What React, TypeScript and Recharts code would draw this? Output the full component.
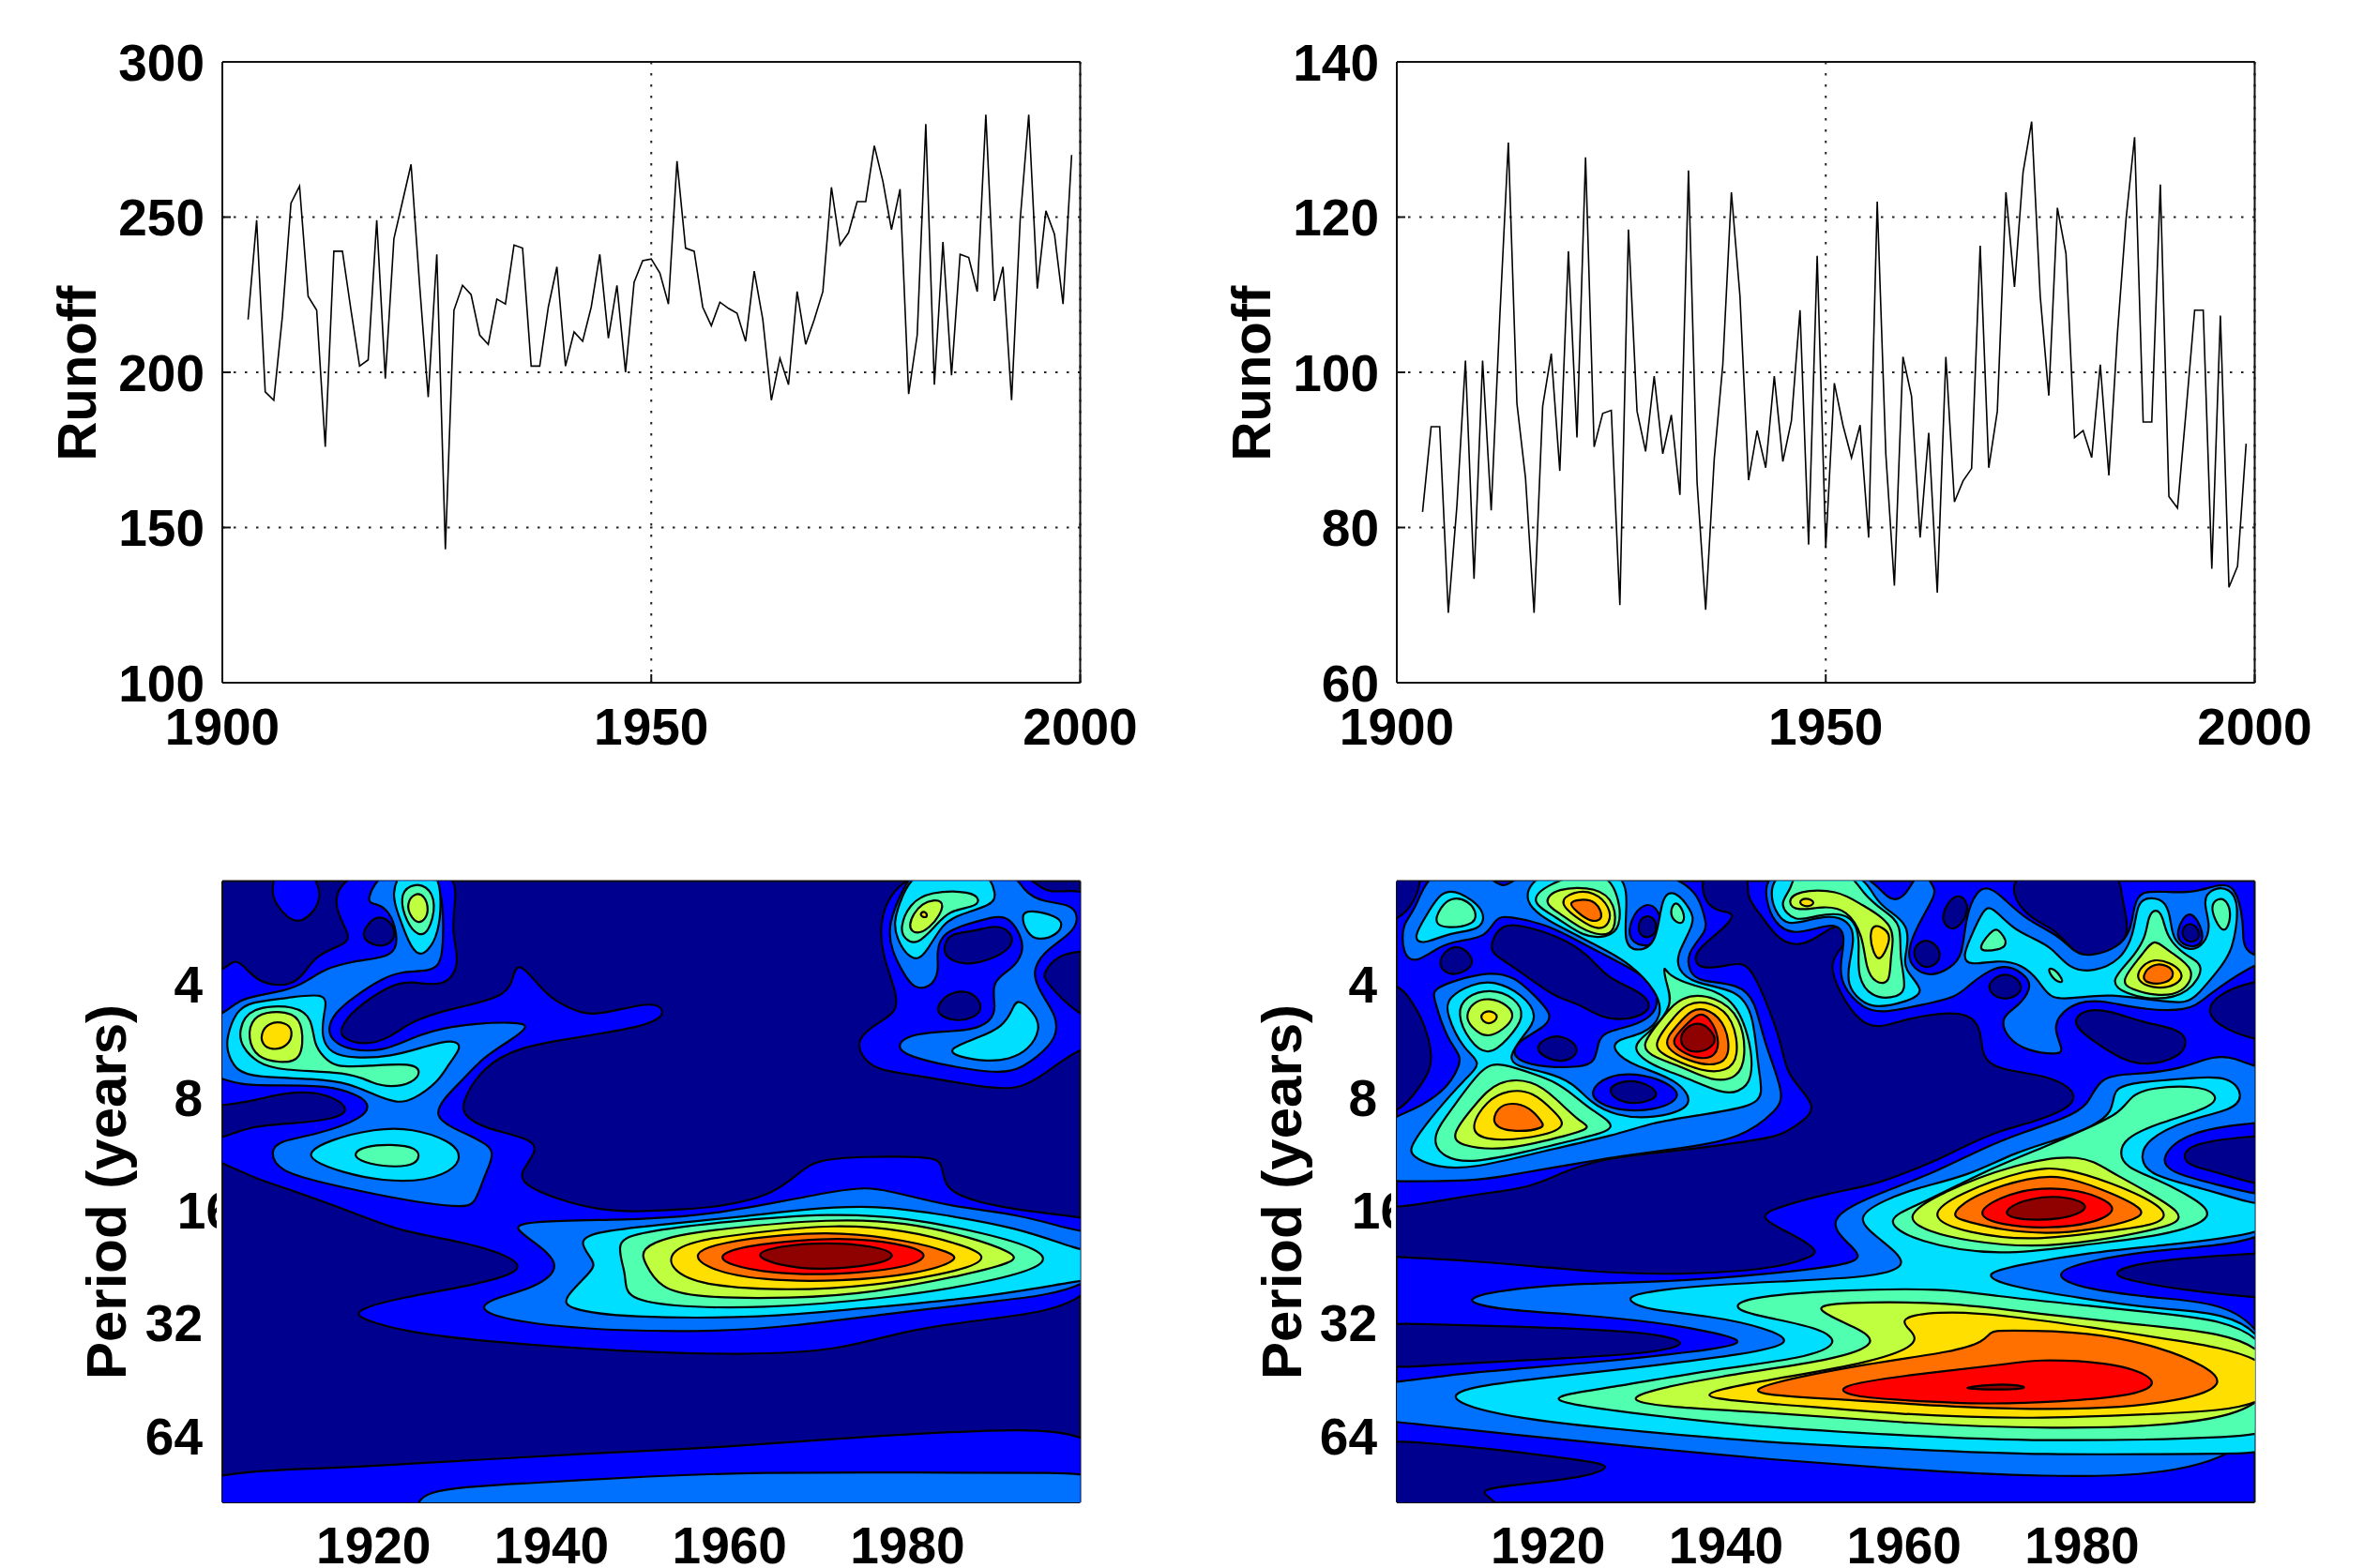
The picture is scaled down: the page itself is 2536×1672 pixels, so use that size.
import { CartesianGrid, ComposedChart, Label, Line, Scatter, XAxis, YAxis } from "recharts"

const years = [
  1903, 1904, 1905, 1906, 1907, 1908, 1909, 1910, 1911, 1912, 1913, 1914, 1915, 1916, 1917, 1918, 1919, 1920, 1921,
  1922, 1923, 1924, 1925, 1926, 1927, 1928, 1929, 1930, 1931, 1932, 1933, 1934, 1935, 1936, 1937, 1938, 1939, 1940,
  1941, 1942, 1943, 1944, 1945, 1946, 1947, 1948, 1949, 1950, 1951, 1952, 1953, 1954, 1955, 1956, 1957, 1958, 1959,
  1960, 1961, 1962, 1963, 1964, 1965, 1966, 1967, 1968, 1969, 1970, 1971, 1972, 1973, 1974, 1975, 1976, 1977, 1978,
  1979, 1980, 1981, 1982, 1983, 1984, 1985, 1986, 1987, 1988, 1989, 1990, 1991, 1992, 1993, 1994, 1995, 1996, 1997,
  1998, 1999,
]
const leftRunoff = [
  217, 249, 193.7, 191, 218, 254.5, 260, 224.5, 220, 176, 239, 239, 220, 202, 204, 249, 198, 243, 255, 267, 228, 192,
  238, 143, 220, 228, 225, 212, 209, 223.6, 222, 241, 240, 202, 202, 221, 234, 202, 213, 210, 221, 238, 211, 228, 200,
  229, 236, 236.5, 232, 222, 268, 240, 239, 221, 215, 222.6, 220.6, 219, 210, 232.6, 217, 191, 204.5, 196, 226, 209,
  217, 226, 259.6, 241, 245, 255, 255, 273, 261.5, 246, 259, 193, 212, 280, 196, 242, 199, 238, 237, 226, 283, 223,
  234, 191, 249, 283, 227, 252, 244.5, 222, 270,
]
const rightRunoff = [
  82, 93, 93, 69, 82.7, 101.5, 73.4, 101.5, 82.2, 107, 129.6, 96, 86.4, 69, 95.6, 102.4, 87.3, 115.6, 91.6, 127.7,
  90.4, 94.7, 95.1, 70, 118.4, 95, 89.8, 99.5, 89.5, 94.5, 84.2, 126, 85.8, 69.4, 88.8, 101, 123.2, 109.8, 86.1, 92.5,
  87.7, 99.5, 88.5, 93.8, 108, 77.8, 115, 77.4, 98.6, 93.2, 89, 93.2, 78.7, 122, 89.5, 72.5, 102, 96.9, 78.7, 92.2,
  71.6, 102, 83.3, 86, 87.6, 116.3, 87.7, 95, 123.2, 111, 125.8, 132.3, 109.8, 97, 121.2, 115.3, 91.6, 92.5, 89, 101,
  86.7, 105, 119.7, 130.3, 93.6, 93.6, 124.2, 84, 82.5, 95, 108, 108, 74.7, 107.3, 72.3, 75, 90.8,
]
const leftRunoffTicks = [100, 150, 200, 250, 300]
const rightRunoffTicks = [60, 80, 100, 120, 140]
const lineYearTicks = [1900, 1950, 2000]
const contourYearTicks = [1920, 1940, 1960, 1980]
const periodOctaves = [2, 3, 4, 5, 6]

// jet bands, index = contour level
const levelColors = [
  "#00008f", "#0000ff", "#0070ff", "#00dfff", "#50ffaf", "#bfff40", "#ffdf00", "#ff7000", "#ff0000", "#8f0000",
]

// [level, [year, log2(period)] ...], painted in order
type Contour = [number, number[][]]

const leftContours: Contour[] = [
  [1, [[1908.5, 1.18], [1909, 0.95], [1912.9, 0.95], [1914.6, 1.24], [1911.9, 1.47], [1910.2, 1.4], [1909, 1.28]]],
  [1, [
    [1915, 1.28], [1917.3, 0.95], [1929.1, 0.95], [1929.3, 1.22], [1928.7, 1.53], [1929.8, 1.81], [1928.1, 2.03],
    [1924, 1.96], [1921.9, 2], [1917.7, 2.22], [1916.2, 2.39], [1916.4, 2.47], [1918.9, 2.54], [1921.9, 2.47],
    [1924, 2.33], [1928.5, 2.21], [1935.2, 2.11], [1935.7, 1.89], [1936.4, 1.8], [1938.5, 2], [1940.2, 2.14],
    [1943.5, 2.26], [1945.5, 2.26], [1950.1, 2.17], [1952.2, 2.17], [1952.8, 2.28], [1950.1, 2.37], [1945.5, 2.43],
    [1941.9, 2.48], [1936.4, 2.55], [1932.3, 2.72], [1929.8, 3.05], [1930.2, 3.16], [1932.3, 3.27], [1937.7, 3.36],
    [1938.5, 3.47], [1936.4, 3.66], [1936.8, 3.77], [1940.6, 3.9], [1945.5, 4.0], [1950.1, 4.01], [1954.4, 3.99],
    [1958.7, 3.97], [1964.7, 3.87], [1967.9, 3.66], [1969.7, 3.55], [1974.7, 3.52], [1982.9, 3.52], [1983.9, 3.58],
    [1984.1, 3.77], [1985.7, 3.87], [1990, 3.97], [1999.3, 4.06], [2002, 4.08], [2002, 4.84], [1988.8, 4.96],
    [1979.1, 5.07], [1972.4, 5.24], [1962, 5.28], [1947.8, 5.25], [1932.8, 5.16], [1924.6, 5.09], [1918.3, 4.96],
    [1917.9, 4.88], [1923.1, 4.77], [1930.6, 4.67], [1936.2, 4.56], [1936.6, 4.44], [1930.6, 4.28], [1923.1, 4.19],
    [1917.9, 4.02], [1909, 3.77], [1906.9, 3.72], [1903.1, 3.58], [1901, 3.52], [1901, 3.36], [1903.1, 3.36],
    [1906, 3.25], [1911, 3.23], [1916.4, 3.18], [1917.3, 3.08], [1914.4, 2.95], [1910.2, 2.95], [1906.9, 3.02],
    [1903.1, 3.07], [1901, 3.07], [1901, 1.88], [1903.1, 1.88], [1904.4, 1.76], [1905.6, 1.85], [1906.9, 1.96],
    [1909, 2.01], [1911, 1.99], [1912.3, 1.89], [1913.5, 1.74], [1916.4, 1.65], [1917.7, 1.58],
  ]],
  [1, [
    [1979.3, 0.95], [1992.5, 0.95], [1995.3, 1.18], [1997.1, 1.17], [2002, 1.16], [2002, 1.7], [1999.3, 1.7],
    [1996.8, 1.74], [1995.3, 1.89], [1995.3, 1.96], [1999.3, 2.28], [2002, 2.33], [2002, 2.55], [1999.3, 2.55],
    [1995.3, 2.8], [1992.8, 2.91], [1990, 2.93], [1981.1, 2.8], [1976.8, 2.76], [1975, 2.66], [1974.1, 2.48],
    [1976.8, 2.33], [1978.8, 2.24], [1978.8, 2.08], [1977.5, 1.81], [1976.5, 1.46],
  ]],
  [1, [
    [1895, 6.33], [1914.2, 6.29], [1929.1, 6.22], [1944, 6.15], [1959, 6.1], [1973.9, 6.01], [1988.8, 5.94],
    [2005, 5.93], [2005, 7.2], [1895, 7.2],
  ]],
  [0, [[1918.5, 1.58], [1919.4, 1.45], [1920.6, 1.38], [1922.1, 1.45], [1922.5, 1.57], [1921.6, 1.65], [1920.2, 1.66]]],
  [0, [[1984, 1.67], [1984.7, 1.54], [1987.5, 1.53], [1990, 1.46], [1991.8, 1.54], [1991.8, 1.67], [1989.3, 1.78], [1986.4, 1.83], [1984.3, 1.76]]],
  [0, [[1982.9, 2.25], [1984, 2.1], [1986.1, 2.04], [1987.9, 2.1], [1988.4, 2.22], [1987.5, 2.29], [1985.4, 2.33]]],
  [2, [
    [1919, 1.27], [1921, 0.95], [1927.5, 0.95], [1927.9, 1.47], [1927.7, 1.81], [1926.4, 1.88], [1923.1, 1.88],
    [1921, 1.94], [1917.7, 2.11], [1915.6, 2.25], [1914.8, 2.39], [1915.4, 2.5], [1917.3, 2.58], [1921, 2.59],
    [1924, 2.48], [1928.1, 2.36], [1936.4, 2.32], [1937.5, 2.37], [1935.6, 2.48], [1932.3, 2.64], [1929.8, 2.86],
    [1927.7, 3.02], [1926.9, 3.16], [1928.5, 3.26], [1933.1, 3.41], [1933.5, 3.52], [1932.3, 3.72], [1931.4, 3.94],
    [1930.2, 3.97], [1926, 3.94], [1919.8, 3.85], [1913.5, 3.74], [1909.4, 3.65], [1908.3, 3.48], [1909.4, 3.38],
    [1913.5, 3.33], [1919, 3.18], [1919.6, 3.05], [1918.1, 2.97], [1914.8, 2.89], [1909.4, 2.89], [1905.2, 2.89],
    [1903.1, 2.83], [1901, 2.8], [1901, 2.25], [1903.1, 2.28], [1904.8, 2.11], [1910.2, 2.06], [1912.7, 1.96],
    [1914.4, 1.86], [1917.7, 1.79], [1921, 1.76], [1922.7, 1.7], [1922.5, 1.47], [1921.4, 1.32], [1920.2, 1.28],
  ]],
  [2, [
    [1977.7, 1.47], [1979.7, 1.11], [1981.1, 0.95], [1991.8, 0.95], [1992.9, 1.17], [1995.3, 1.27], [1998.2, 1.28],
    [1999.3, 1.39], [1998.6, 1.54], [1995.3, 1.7], [1993.9, 1.89], [1995, 2.08], [1996.8, 2.28], [1996.8, 2.47],
    [1994.6, 2.64], [1991.8, 2.79], [1987.5, 2.76], [1981.1, 2.66], [1978.6, 2.57], [1979.7, 2.44], [1984.7, 2.41],
    [1987.2, 2.4], [1989.3, 2.33], [1990, 2.21], [1989.3, 1.97], [1991.8, 1.86], [1993, 1.72], [1992.9, 1.58],
    [1991.4, 1.4], [1990, 1.39], [1987.2, 1.45], [1984, 1.53], [1983.2, 1.7], [1983.6, 1.89], [1982.5, 2.03],
    [1980.7, 2.03], [1979.7, 1.92], [1978.2, 1.7],
  ]],
  [2, [
    [1935.8, 4.16], [1936.6, 4.09], [1951.5, 4.08], [1959, 4.02], [1966.4, 3.91], [1971.6, 3.83], [1975.4, 3.79],
    [1978.3, 3.83], [1985, 3.97], [1992.5, 4.03], [1999.2, 4.19], [2002, 4.2], [2002, 4.7], [1988.8, 4.81],
    [1978.3, 4.91], [1966.4, 5.03], [1959, 5.07], [1947.8, 5.07], [1936.6, 5], [1931.3, 4.88], [1933.6, 4.77],
    [1938.1, 4.69], [1941.4, 4.49], [1938.1, 4.28],
  ]],
  [2, [
    [1924.6, 6.47], [1936.6, 6.42], [1951.5, 6.35], [1962.7, 6.32], [1981.3, 6.32], [1997, 6.32], [2005, 6.35],
    [2005, 7.2], [1925, 7.2], [1925, 6.7],
  ]],
  [3, [
    [1903.5, 2.47], [1904.4, 2.25], [1906, 2.15], [1910.2, 2.12], [1915, 2.06], [1914.4, 2.25], [1914.1, 2.47],
    [1915.2, 2.61], [1917.7, 2.65], [1921.9, 2.64], [1926, 2.54], [1929, 2.48], [1930, 2.55], [1928.5, 2.69],
    [1927.3, 2.86], [1924.4, 3.02], [1922.7, 3.05], [1920.2, 2.98], [1917.3, 2.87], [1913.5, 2.83], [1906.4, 2.82],
    [1904.4, 2.75], [1903.5, 2.58],
  ]],
  [3, [[1922, 1.2], [1923.1, 0.95], [1926.9, 0.95], [1927.7, 1.2], [1927.3, 1.56], [1926, 1.71], [1925, 1.74], [1924, 1.64], [1922.7, 1.36]]],
  [3, [[1912.7, 3.48], [1914.8, 3.38], [1920.2, 3.27], [1924.4, 3.27], [1928.5, 3.38], [1929.8, 3.49], [1929.4, 3.62], [1926, 3.74], [1921, 3.74], [1916.4, 3.66], [1913.1, 3.56]]],
  [3, [[1978.4, 1.45], [1979.3, 1.22], [1981.1, 0.95], [1988.9, 0.95], [1990, 1.2], [1989.6, 1.29], [1985.7, 1.38], [1984, 1.45], [1982.2, 1.7], [1981.1, 1.79], [1979.7, 1.72], [1978.8, 1.58]]],
  [3, [[1992.7, 1.38], [1993.6, 1.33], [1996.8, 1.39], [1997.5, 1.46], [1996.8, 1.56], [1994.6, 1.61], [1993.4, 1.54]]],
  [3, [[1984.3, 2.57], [1988.2, 2.46], [1990.7, 2.37], [1991.8, 2.22], [1992.3, 2.11], [1994.3, 2.25], [1995, 2.39], [1993.6, 2.58], [1991.4, 2.66], [1989, 2.68], [1985.7, 2.64]]],
  [3, [
    [1942.9, 4.27], [1944.8, 4.19], [1951.5, 4.13], [1962, 4.05], [1967.9, 3.99], [1976.1, 3.95], [1982.8, 4.02],
    [1992.5, 4.15], [1999.2, 4.35], [2002, 4.38], [2002, 4.6], [1999.2, 4.62], [1988.8, 4.77], [1973.9, 4.87],
    [1964.5, 4.95], [1947.8, 4.95], [1941.8, 4.87], [1941.2, 4.78], [1944.8, 4.52], [1944.8, 4.45],
  ]],
  [4, [
    [1904.8, 2.41], [1906, 2.19], [1911.4, 2.18], [1913.1, 2.3], [1913.3, 2.53], [1914.4, 2.64], [1915.6, 2.73],
    [1919.4, 2.72], [1924.4, 2.69], [1925.4, 2.77], [1924.4, 2.87], [1921.9, 2.91], [1919.8, 2.87], [1917.3, 2.77],
    [1909.4, 2.76], [1906.9, 2.69], [1905.2, 2.55],
  ]],
  [4, [[1922.9, 1.22], [1924, 1.11], [1926, 1.11], [1927.1, 1.28], [1926.2, 1.54], [1925, 1.57], [1923.7, 1.45]]],
  [4, [[1917.7, 3.49], [1919, 3.43], [1921.9, 3.41], [1925, 3.44], [1925.2, 3.55], [1924, 3.61], [1921, 3.61], [1918.3, 3.56]]],
  [4, [[1979.1, 1.5], [1980.2, 1.28], [1982.5, 1.17], [1987.2, 1.17], [1988.2, 1.25], [1987.5, 1.31], [1984.7, 1.34], [1983.2, 1.47], [1981.1, 1.65], [1979.7, 1.6]]],
  [4, [
    [1947, 4.27], [1950, 4.19], [1959, 4.1], [1971.6, 4.02], [1979.8, 4.06], [1988.8, 4.2], [1994.8, 4.34],
    [1996.1, 4.48], [1988.8, 4.64], [1977.6, 4.78], [1963.4, 4.87], [1953, 4.85], [1948.1, 4.77], [1948.5, 4.57],
  ]],
  [5, [[1905.8, 2.47], [1906.4, 2.28], [1908.5, 2.23], [1911, 2.25], [1912.1, 2.36], [1912, 2.68], [1909.4, 2.69], [1906.9, 2.65]]],
  [5, [[1923.7, 1.28], [1924.6, 1.18], [1925.8, 1.21], [1926.2, 1.34], [1925.8, 1.42], [1925, 1.46], [1924.1, 1.39]]],
  [5, [[1979.8, 1.49], [1981.5, 1.25], [1984.3, 1.24], [1983.6, 1.39], [1982.5, 1.49], [1981.1, 1.56]]],
  [5, [
    [1950, 4.34], [1953, 4.23], [1959, 4.16], [1971.6, 4.07], [1979.8, 4.1], [1987.3, 4.24], [1991.8, 4.37],
    [1992.5, 4.45], [1986.5, 4.57], [1976.1, 4.73], [1967.1, 4.78], [1956, 4.77], [1952.2, 4.69], [1950.4, 4.46],
  ]],
  [6, [[1907.3, 2.44], [1908.1, 2.33], [1910.2, 2.33], [1911, 2.41], [1910.4, 2.55], [1908.5, 2.58], [1907.5, 2.53]]],
  [6, [[1981.3, 1.38], [1981.8, 1.34], [1982.3, 1.38], [1982, 1.41]]],
  [6, [
    [1953, 4.38], [1956, 4.26], [1963.4, 4.19], [1971.6, 4.12], [1979.8, 4.17], [1986.5, 4.31], [1989.2, 4.41],
    [1986.5, 4.53], [1976.1, 4.67], [1966.4, 4.71], [1957.5, 4.67], [1953.7, 4.55],
  ]],
  [7, [[1955.6, 4.38], [1959, 4.28], [1966.4, 4.21], [1972.4, 4.19], [1979.8, 4.26], [1985, 4.37], [1985.8, 4.44], [1981.3, 4.56], [1972.4, 4.63], [1963.4, 4.62], [1957.5, 4.52]]],
  [8, [[1958.6, 4.39], [1961.9, 4.31], [1967.9, 4.26], [1973.9, 4.24], [1980.6, 4.31], [1982.7, 4.41], [1979.1, 4.52], [1971.6, 4.57], [1964.9, 4.56], [1959.7, 4.48]]],
  [9, [[1962.3, 4.39], [1965.7, 4.31], [1970.9, 4.28], [1976.1, 4.31], [1979.1, 4.39], [1976.8, 4.48], [1970.1, 4.53], [1965.7, 4.49]]],
]

// the right panel's lowest painted band is level 1, its dark patches go on top
const rightContours: Contour[] = [
  [0, [
    [1901, 3.97], [1903, 3.97], [1907.5, 3.92], [1912.3, 3.85], [1918, 3.8], [1921.6, 3.66], [1925.6, 3.55],
    [1931.7, 3.49], [1937.7, 3.44], [1943.8, 3.37], [1946.3, 3.33], [1948.4, 3.22], [1950.5, 3.08], [1946.7, 2.8],
    [1946.4, 2.55], [1944.2, 2.08], [1942.5, 1.81], [1940.9, 1.81], [1936.9, 1.88], [1936.1, 1.72], [1939.3, 1.53],
    [1940.9, 1.4], [1940.5, 1.35], [1937.7, 1.34], [1936.7, 0.95], [1942.9, 0.95], [1942.1, 1.22], [1943.8, 1.36],
    [1945.8, 1.61], [1948.6, 1.67], [1951.6, 1.5], [1952.6, 1.47], [1953.8, 1.57], [1953, 1.67], [1951.5, 1.81],
    [1952.8, 2.08], [1955, 2.33], [1957.1, 2.39], [1960.3, 2.3], [1963.8, 2.25], [1967.3, 2.25], [1968.7, 2.39],
    [1968.7, 2.64], [1970.4, 2.75], [1976, 2.8], [1978.8, 2.91], [1979.3, 3.02], [1977.8, 3.12], [1974.3, 3.22],
    [1970.8, 3.29], [1967.3, 3.41], [1963.8, 3.55], [1960.3, 3.66], [1956.8, 3.77], [1951.2, 3.85], [1945.4, 3.98],
    [1943.5, 4.06], [1947.5, 4.21], [1950.4, 4.35], [1949.7, 4.41], [1945.4, 4.52], [1934.5, 4.57], [1925.8, 4.55],
    [1912.7, 4.45], [1903.3, 4.41], [1901, 4.41],
  ]],
  [0, [[1901, 2], [1903, 2], [1904.2, 2.08], [1906.3, 2.36], [1907, 2.64], [1906.7, 2.77], [1905, 2.97], [1903.2, 3.12], [1901, 3.15]]],
  [0, [[1901, 0.9], [1906.3, 0.95], [1905, 1.28], [1903.2, 1.42], [1901, 1.45]]],
  [0, [[1907.5, 1.81], [1908.7, 1.67], [1910.3, 1.65], [1911.9, 1.79], [1910.7, 1.89], [1908.7, 1.92]]],
  [0, [
    [1913.5, 1.64], [1914.7, 1.46], [1917.1, 1.47], [1921.2, 1.57], [1924.4, 1.72], [1926.6, 1.94], [1929.6, 2.03],
    [1931.5, 2.14], [1931.3, 2.25], [1928.4, 2.32], [1925.6, 2.28], [1923.6, 2.17], [1920.8, 2.11], [1917.9, 1.94],
    [1915.5, 1.81], [1913.7, 1.72],
  ]],
  [0, [[1918.3, 2.58], [1919.6, 2.47], [1921.6, 2.44], [1923.6, 2.55], [1922.8, 2.66], [1920.8, 2.69]]],
  [0, [[1970.8, 0.95], [1973.2, 1.39], [1977.1, 1.5], [1978.8, 1.7], [1981.3, 1.79], [1984.1, 1.7], [1985.5, 1.52], [1984.2, 1.17], [1984.4, 0.95]]],
  [0, [[1960.8, 1.72], [1961.7, 1.61], [1963.1, 1.6], [1964.3, 1.72], [1963.6, 1.83], [1962, 1.86]]],
  [0, [[1964.1, 1.38], [1965.5, 1.2], [1966.9, 1.22], [1967.3, 1.36], [1965.9, 1.52], [1964.7, 1.49]]],
  [0, [[1969.2, 2.04], [1970.1, 1.93], [1971.8, 1.89], [1973.4, 1.99], [1972.9, 2.1], [1970.8, 2.14]]],
  [0, [[1978.8, 2.35], [1979.9, 2.22], [1983, 2.22], [1986.5, 2.33], [1991, 2.39], [1991.9, 2.5], [1991.1, 2.64], [1987.2, 2.72], [1984.4, 2.66], [1981.3, 2.5]]],
  [0, [[1993.8, 2.25], [1995.2, 2.08], [1999.1, 1.97], [2002, 1.95], [2002, 2.5], [1999.1, 2.48], [1996, 2.39]]],
  [0, [[1991.2, 3.54], [1992.1, 3.4], [1999.1, 3.34], [2002, 3.33], [2002, 3.78], [1999.1, 3.76], [1995.2, 3.66], [1992.4, 3.61]]],
  [0, [[1982.4, 4.56], [1987.4, 4.44], [1999.4, 4.38], [2002, 4.37], [2002, 4.78], [1999.4, 4.77], [1991.1, 4.7], [1986.7, 4.64]]],
  [0, [[1901, 5], [1903.3, 5], [1918.5, 5.03], [1930.8, 5.07], [1936.6, 5.17], [1931.6, 5.27], [1918.5, 5.32], [1903.3, 5.39], [1901, 5.39]]],
  [0, [[1901, 6.04], [1903.3, 6.04], [1912.7, 6.1], [1923.6, 6.21], [1927.6, 6.26], [1924.3, 6.36], [1917.8, 6.42], [1911.2, 6.47], [1915.2, 6.6], [1915, 6.9], [1901, 6.9]]],
  [2, [
    [1906.7, 0.95], [1912.5, 0.95], [1915.1, 1.2], [1916.9, 0.95], [1935.9, 0.95], [1937.7, 1.42], [1937.9, 1.52],
    [1935.5, 1.72], [1935.9, 1.89], [1936.9, 1.97], [1941.5, 1.99], [1943.3, 2.14], [1944.2, 2.5], [1946.6, 2.97],
    [1945.8, 3.11], [1941.7, 3.36], [1935.7, 3.44], [1927.6, 3.52], [1923.6, 3.58], [1919.6, 3.63], [1915.5, 3.69],
    [1911.5, 3.74], [1903, 3.74], [1901, 3.74], [1901, 3.2], [1904.6, 3.13], [1908.3, 2.94], [1909.5, 2.8],
    [1910.5, 2.64], [1908.7, 2.5], [1907.1, 2.11], [1907.1, 2.04], [1909.5, 1.96], [1913.5, 1.88], [1916.3, 1.93],
    [1918.3, 2.08], [1920.8, 2.28], [1919.2, 2.39], [1917.1, 2.48], [1915.9, 2.58], [1916.7, 2.68], [1919.6, 2.73],
    [1923.6, 2.73], [1925.4, 2.69], [1925.6, 2.47], [1926.8, 2.41], [1929.6, 2.36], [1931.7, 2.28], [1932.5, 2.14],
    [1931.7, 1.97], [1929.2, 1.85], [1926, 1.72], [1922.4, 1.57], [1919.6, 1.46], [1915.5, 1.39], [1914.1, 1.4],
    [1913.1, 1.58], [1909.9, 1.61], [1907.9, 1.65], [1905, 1.82], [1903.6, 1.72], [1903.6, 1.45], [1905, 1.36],
  ]],
  [2, [
    [1944.4, 0.95], [1955.7, 0.95], [1958.2, 1.28], [1960.3, 1.22], [1961.7, 0.95], [1963.4, 1.13], [1963.6, 1.2],
    [1961.3, 1.5], [1960.3, 1.72], [1961, 1.86], [1963.1, 1.93], [1965.2, 1.85], [1966.6, 1.75], [1966.9, 1.39],
    [1968.2, 1.16], [1969.4, 1.13], [1970.8, 1.2], [1973.6, 1.42], [1977.4, 1.56], [1979.2, 1.72], [1980.9, 1.75],
    [1984.1, 1.67], [1985.5, 1.52], [1985.8, 1.31], [1986.5, 1.16], [1989.7, 1.18], [1992.8, 1.18], [1995.2, 1.11],
    [1997.3, 1.11], [1998.2, 1.47], [1998, 1.64], [1999.1, 1.75], [2002, 1.76], [1999.1, 1.82], [1993.8, 2.11],
    [1992.1, 2.24], [1985.8, 2.21], [1982.7, 2.14], [1979.5, 2.14], [1977.2, 2.28], [1976.9, 2.41], [1977.9, 2.58],
    [1977.4, 2.62], [1973.9, 2.59], [1971.5, 2.47], [1970.8, 2.28], [1972.9, 2.19], [1974.3, 2.03], [1973.9, 1.93],
    [1971.8, 1.82], [1969.7, 1.86], [1967.3, 2], [1965.9, 2.11], [1962.4, 2.17], [1957.8, 2.25], [1955.4, 2.22],
    [1952.9, 2], [1952.8, 1.81], [1953.5, 1.54], [1952.2, 1.46], [1950.5, 1.49], [1947.4, 1.56], [1945.4, 1.45],
    [1944.4, 1.25],
  ]],
  [2, [
    [1981.8, 2.8], [1986.5, 2.79], [1991, 2.75], [1994.9, 2.62], [1997.3, 2.65], [1999.1, 2.72], [2002, 2.75],
    [2002, 3.22], [1999.1, 3.22], [1991.8, 3.3], [1988.8, 3.52], [1989.6, 3.66], [1995.2, 3.77], [1999.1, 3.85],
    [2002, 3.87], [2002, 4.28], [1988.9, 4.34], [1980.9, 4.44], [1976.2, 4.56], [1980.2, 4.7], [1988.9, 4.78],
    [2002, 4.86], [2002, 6.36], [1972.9, 6.36], [1959.9, 6.29], [1945.4, 6.21], [1930.8, 6.1], [1916.3, 5.99],
    [1903.3, 5.87], [1901, 5.87], [1901, 5.52], [1903.3, 5.52], [1911.2, 5.43], [1925, 5.35], [1936.6, 5.25],
    [1943.2, 5.17], [1938.1, 5.07], [1932.3, 4.99], [1923.6, 4.92], [1914.2, 4.88], [1909.4, 4.78], [1917.8, 4.67],
    [1926.5, 4.64], [1934.5, 4.63], [1949, 4.53], [1954.8, 4.46], [1955.2, 4.37], [1950.3, 4.08], [1957.8, 3.83],
    [1963.8, 3.65], [1969, 3.44], [1973.6, 3.3], [1977.8, 3.19], [1980.9, 3.07],
  ]],
  [1, [[1929, 1.47], [1930.4, 1.28], [1932.3, 1.29], [1933.1, 1.53], [1932.1, 1.67], [1929.2, 1.64]]],
  [1, [[1924.6, 2.95], [1926.4, 2.8], [1930.8, 2.78], [1934.5, 2.91], [1934.7, 3.02], [1932.1, 3.11], [1928.4, 3.12], [1925.6, 3.05]]],
  [0, [[1930, 1.47], [1930.8, 1.38], [1931.9, 1.4], [1932.3, 1.5], [1931.7, 1.58], [1930.4, 1.58]]],
  [0, [[1926.6, 2.95], [1927.6, 2.86], [1930.4, 2.84], [1932.9, 2.97], [1930.8, 3.05], [1928.4, 3.05]]],
  [3, [
    [1916.5, 1.27], [1919.2, 0.95], [1928.4, 0.95], [1929, 1.25], [1928.4, 1.64], [1930, 1.71], [1932.3, 1.64],
    [1932.7, 1.2], [1934.3, 1.16], [1936.1, 1.34], [1936.5, 1.45], [1934.5, 1.72], [1934.5, 1.86], [1936.3, 1.99],
    [1941.3, 2.04], [1943.1, 2.25], [1943.6, 2.75], [1944.2, 2.97], [1943, 3.08], [1936.5, 3.16], [1931.7, 3.22],
    [1927.6, 3.33], [1919.6, 3.47], [1911.5, 3.63], [1907.5, 3.62], [1904.6, 3.52], [1904.4, 3.43], [1907.5, 3.11],
    [1910.7, 2.83], [1912.7, 2.69], [1910.5, 2.58], [1908.5, 2.25], [1908.7, 2.11], [1911.5, 1.99], [1913.9, 1.96],
    [1917.1, 2.08], [1919, 2.28], [1917.3, 2.44], [1915.5, 2.64], [1916.3, 2.72], [1919.6, 2.77], [1922.8, 2.86],
    [1924.8, 3.05], [1927.6, 3.16], [1931.7, 3.19], [1936.9, 3.08], [1934.5, 2.83], [1929.6, 2.72], [1927.2, 2.58],
    [1927.6, 2.48], [1930.8, 2.44], [1932.9, 2.28], [1932.3, 2.06], [1929.2, 1.81], [1926, 1.67], [1921.6, 1.5],
  ]],
  [3, [[1904.8, 1.58], [1906.3, 1.39], [1907.9, 1.17], [1909.9, 1.16], [1913.1, 1.34], [1912.5, 1.52], [1909.1, 1.53], [1905.8, 1.65]]],
  [3, [
    [1944.8, 1.2], [1945.8, 0.95], [1954.9, 0.95], [1956.8, 1.25], [1958.2, 1.34], [1960.6, 1.47], [1960.3, 1.7],
    [1959.8, 1.86], [1962.6, 2.06], [1960.3, 2.15], [1956.8, 2.21], [1955, 2.14], [1953.6, 2], [1953.8, 1.81],
    [1954.5, 1.58], [1953.8, 1.43], [1951.6, 1.38], [1949.1, 1.43], [1947, 1.47], [1945.8, 1.39],
  ]],
  [3, [
    [1966.6, 1.75], [1967.3, 1.61], [1969, 1.31], [1969.9, 1.31], [1972.2, 1.5], [1974.3, 1.58], [1976.7, 1.67],
    [1978.5, 1.86], [1981.3, 1.89], [1984.4, 1.78], [1985.8, 1.56], [1986.2, 1.28], [1987.2, 1.22], [1989.6, 1.25],
    [1990, 1.47], [1990.3, 1.61], [1992.1, 1.71], [1993.8, 1.64], [1994.5, 1.47], [1993.5, 1.25], [1994.6, 1.14],
    [1996.6, 1.14], [1997.7, 1.28], [1997, 1.7], [1995.2, 1.88], [1993.1, 2.08], [1991.7, 2.17], [1988.6, 2.14],
    [1983, 2.08], [1979.9, 2.11], [1976.4, 2.14], [1975.3, 1.97], [1973.2, 1.81], [1970.4, 1.78], [1967.3, 1.83],
  ]],
  [3, [
    [1983.5, 2.97], [1984.4, 2.87], [1991.8, 2.83], [1996.6, 2.8], [1998.2, 2.98], [1997, 3.11], [1991.8, 3.19],
    [1987.2, 3.37], [1986.5, 3.54], [1987.6, 3.69], [1993.5, 3.8], [1999.1, 3.94], [2002, 3.96], [2002, 4.2],
    [1988.9, 4.31], [1980.9, 4.37], [1972.9, 4.48], [1968.6, 4.56], [1971.5, 4.67], [1980.2, 4.78], [1988.9, 4.88],
    [2002, 4.93], [2002, 6.15], [1999.4, 6.15], [1974.4, 6.17], [1959.9, 6.11], [1945.4, 6.06], [1930.8, 5.96],
    [1916.3, 5.85], [1908, 5.67], [1911.2, 5.56], [1918.5, 5.49], [1930.1, 5.39], [1942.5, 5.27], [1947.9, 5.17],
    [1944.6, 5.04], [1938.1, 4.93], [1930.8, 4.88], [1928.3, 4.77], [1931.6, 4.71], [1938.1, 4.66], [1945.4, 4.63],
    [1957, 4.59], [1961, 4.48], [1957, 4.24], [1954.4, 4.06], [1957.7, 3.91], [1961.3, 3.8], [1967.3, 3.69],
    [1972.5, 3.48], [1977.8, 3.36], [1981.3, 3.25], [1983.4, 3.13],
  ]],
  [1, [[1990.4, 1.54], [1992.1, 1.29], [1993.9, 1.56], [1993.1, 1.67], [1991.2, 1.65]]],
  [0, [[1991, 1.52], [1992.1, 1.43], [1993.3, 1.52], [1993.1, 1.61], [1991.7, 1.63]]],
  [4, [[1907.1, 1.46], [1907.9, 1.31], [1909.1, 1.22], [1911.1, 1.25], [1912.1, 1.38], [1911.5, 1.47], [1908.7, 1.5]]],
  [4, [[1917.9, 1.27], [1919.6, 1.11], [1926, 0.95], [1928, 1.2], [1928.2, 1.5], [1926.6, 1.58], [1924, 1.58], [1920.8, 1.39]]],
  [4, [[1933.6, 1.36], [1934.3, 1.24], [1935.3, 1.35], [1935.3, 1.46], [1934.3, 1.45]]],
  [4, [[1909.7, 2.25], [1910.7, 2.1], [1913.5, 2.03], [1916.3, 2.11], [1917.5, 2.28], [1915.5, 2.48], [1913.3, 2.64], [1911.1, 2.5]]],
  [4, [[1906.7, 3.36], [1909.1, 3.11], [1912.7, 2.71], [1914.7, 2.69], [1918.8, 2.8], [1920.8, 2.86], [1922.8, 2.97], [1924.8, 3.11], [1928.4, 3.27], [1923.6, 3.36], [1917.5, 3.48], [1911.5, 3.58], [1908.3, 3.54]]],
  [4, [[1929, 2.55], [1931.7, 2.41], [1934.1, 2.17], [1933.3, 2], [1932.9, 1.81], [1933.5, 1.92], [1936.3, 2.01], [1940.5, 2.08], [1942.7, 2.44], [1943.1, 2.86], [1941.3, 2.95], [1939.7, 2.97], [1934.9, 2.8], [1931.7, 2.72]]],
  [4, [[1945.8, 1.28], [1947.4, 1.16], [1947.7, 0.95], [1953.6, 0.95], [1955.4, 1.2], [1957.8, 1.35], [1959.8, 1.46], [1959.4, 1.75], [1960.5, 2.07], [1958.5, 2.12], [1956.4, 2.11], [1954.7, 1.94], [1955, 1.64], [1954.7, 1.47], [1953.3, 1.36], [1950.2, 1.38], [1947.7, 1.45]]],
  [4, [[1968.3, 1.67], [1970.1, 1.49], [1970.8, 1.52], [1972, 1.67], [1969, 1.71]]],
  [4, [[1976, 1.85], [1976.9, 1.85], [1978.2, 1.99], [1976.9, 1.97]]],
  [4, [[1994.4, 1.28], [1995.6, 1.22], [1996.4, 1.27], [1996.8, 1.39], [1996.1, 1.56], [1994.9, 1.43]]],
  [4, [[1987.4, 1.39], [1988.3, 1.32], [1989.1, 1.39], [1989.5, 1.58], [1991.7, 1.75], [1994, 1.82], [1992.1, 2.08], [1988.3, 2.14], [1984.8, 2.08], [1983, 1.97], [1985.5, 1.78], [1987.2, 1.58]]],
  [4, [
    [1985.5, 2.98], [1987.6, 2.91], [1993.1, 2.89], [1995.4, 2.98], [1994.5, 3.09], [1988.3, 3.23], [1984.8, 3.36],
    [1984.2, 3.49], [1984.8, 3.61], [1988.3, 3.72], [1991.7, 3.85], [1995.8, 4.06], [1988.9, 4.23], [1980.2, 4.3],
    [1970.8, 4.41], [1961.3, 4.28], [1957.3, 4.08], [1962, 3.94], [1969, 3.65], [1976, 3.43], [1980.6, 3.27], [1984.4, 3.13],
  ]],
  [4, [
    [1940.6, 4.88], [1941.7, 4.77], [1952.6, 4.7], [1964.9, 4.69], [1969.3, 4.75], [1981.6, 4.85], [1988.9, 4.91],
    [2002, 5.03], [2002, 5.95], [1999.4, 6.01], [1974.4, 6.05], [1959.9, 5.99], [1945.4, 5.93], [1930.8, 5.81],
    [1917.4, 5.67], [1927.2, 5.57], [1938.1, 5.41], [1949, 5.31], [1953, 5.17], [1950.4, 5.04], [1945.4, 4.96],
  ]],
  [5, [[1930.2, 2.55], [1932.5, 2.33], [1934.9, 2.08], [1938.9, 2.1], [1941.7, 2.28], [1942.3, 2.64], [1941.3, 2.83], [1938.5, 2.86], [1934.9, 2.72], [1932.1, 2.65]]],
  [5, [[1910.7, 2.28], [1911.5, 2.15], [1913.5, 2.11], [1915.5, 2.18], [1916.3, 2.28], [1915.1, 2.39], [1913.1, 2.48], [1911.3, 2.37]]],
  [5, [[1908.9, 3.34], [1911.9, 3.05], [1914.3, 2.84], [1918.3, 2.84], [1920.8, 3], [1923.6, 3.22], [1925.2, 3.27], [1920.4, 3.37], [1914.7, 3.47], [1910.3, 3.43]]],
  [5, [[1919.4, 1.27], [1920.8, 1.14], [1925.6, 1.13], [1927.6, 1.28], [1927.6, 1.53], [1926, 1.57], [1923.6, 1.5], [1921.2, 1.36]]],
  [5, [[1946.8, 1.27], [1948, 1.16], [1952.6, 1.16], [1955, 1.28], [1959.2, 1.47], [1958.4, 1.75], [1958.5, 1.99], [1956.8, 1.99], [1955.7, 1.86], [1955.4, 1.56], [1953.6, 1.33], [1950.9, 1.3], [1948, 1.35]]],
  [5, [[1984.2, 1.97], [1986.9, 1.72], [1988.1, 1.58], [1989.6, 1.7], [1993, 1.86], [1991.4, 2.08], [1988.3, 2.1], [1985.5, 2.04]]],
  [5, [[1949.3, 4.86], [1952.6, 4.81], [1965.3, 4.81], [1974.4, 4.91], [1988.9, 5.03], [2002, 5.14], [2002, 5.9], [1974.4, 5.94], [1959.9, 5.88], [1945.4, 5.79], [1934.5, 5.75], [1926.5, 5.67], [1939.5, 5.46], [1952.6, 5.32], [1957.3, 5.17], [1954.8, 5.04]]],
  [5, [[1959.8, 4.06], [1963.8, 3.85], [1972.5, 3.58], [1980.2, 3.49], [1983, 3.66], [1992.8, 4.05], [1988.9, 4.16], [1981.6, 4.27], [1974.4, 4.33], [1967.1, 4.27], [1962.8, 4.19]]],
  [6, [[1931.5, 2.55], [1933.7, 2.33], [1935.5, 2.15], [1938.5, 2.15], [1940.9, 2.3], [1941.5, 2.64], [1940.1, 2.77], [1937.3, 2.77], [1933.7, 2.65]]],
  [6, [[1912.1, 2.28], [1913.3, 2.21], [1914.7, 2.28], [1913.3, 2.37]]],
  [6, [[1911.1, 3.27], [1913.1, 3.02], [1915.5, 2.93], [1918.3, 2.94], [1920.8, 3.13], [1922.4, 3.27], [1917.5, 3.37], [1912.7, 3.38]]],
  [6, [[1921, 1.27], [1922.8, 1.17], [1925.2, 1.17], [1927, 1.31], [1927, 1.46], [1925.6, 1.52], [1923.6, 1.43]]],
  [6, [[1948, 1.27], [1948.9, 1.22], [1950.2, 1.27], [1949.1, 1.32]]],
  [6, [[1956.1, 1.56], [1956.6, 1.45], [1958.2, 1.52], [1958.5, 1.6], [1957.3, 1.81], [1956.5, 1.71]]],
  [6, [[1985.5, 1.94], [1987.9, 1.72], [1991.8, 1.88], [1990.7, 2.01], [1987.9, 2.04]]],
  [6, [[1959.9, 4.93], [1965.3, 4.89], [1971.5, 4.93], [1981.6, 5.04], [1988.9, 5.13], [2002, 5.29], [2002, 5.75], [1988.9, 5.8], [1974.4, 5.85], [1959.9, 5.81], [1945.4, 5.71], [1934.5, 5.65], [1945.4, 5.49], [1956.2, 5.35], [1962.4, 5.17], [1959.9, 5.02]]],
  [6, [[1962.4, 4.06], [1965.9, 3.85], [1974.3, 3.62], [1977.8, 3.62], [1983, 3.74], [1989.8, 3.98], [1989.1, 4.13], [1981.6, 4.19], [1974.4, 4.27], [1967.1, 4.2]]],
  [7, [[1932.5, 2.54], [1934.5, 2.36], [1936.1, 2.21], [1938.1, 2.21], [1940.1, 2.36], [1940.5, 2.64], [1938.9, 2.72], [1936.1, 2.69]]],
  [7, [[1913.5, 3.25], [1914.3, 3.08], [1915.9, 3.04], [1917.9, 3.08], [1919.4, 3.22], [1919.6, 3.27], [1916.3, 3.31]]],
  [7, [[1922.2, 1.27], [1923.6, 1.24], [1925.4, 1.25], [1926.4, 1.42], [1924.8, 1.45], [1923.2, 1.35]]],
  [7, [[1986.7, 1.92], [1987.9, 1.81], [1989.6, 1.82], [1990.5, 1.9], [1989.6, 1.99], [1987.2, 1.99]]],
  [7, [[1969.7, 5.07], [1970.8, 5.06], [1980.9, 5.07], [1988.9, 5.21], [1994, 5.38], [1996.2, 5.54], [1991.8, 5.68], [1981.6, 5.77], [1967.1, 5.75], [1952.6, 5.67], [1942.5, 5.63], [1943.9, 5.54], [1956.2, 5.35], [1965.7, 5.25], [1969, 5.16]]],
  [7, [[1964.8, 4.05], [1968, 3.85], [1974.3, 3.7], [1977.8, 3.69], [1982, 3.8], [1987.4, 3.99], [1986.2, 4.08], [1981.3, 4.17], [1976, 4.21], [1970.8, 4.17], [1967.3, 4.1]]],
  [8, [[1933.7, 2.5], [1935.3, 2.37], [1936.9, 2.24], [1938.1, 2.28], [1939.3, 2.47], [1938.9, 2.64], [1936.9, 2.66], [1934.9, 2.59]]],
  [8, [[1951.9, 5.56], [1959.9, 5.46], [1972.9, 5.35], [1974.4, 5.32], [1983.1, 5.34], [1987.8, 5.46], [1988.2, 5.57], [1984.5, 5.65], [1978, 5.69], [1969.3, 5.72], [1959.9, 5.68], [1954.1, 5.65]]],
  [8, [[1967.8, 4.03], [1970.8, 3.88], [1974.3, 3.8], [1979.5, 3.8], [1984.8, 3.97], [1981.3, 4.12], [1976, 4.16], [1970.8, 4.13]]],
  [9, [[1934.7, 2.48], [1935.5, 2.37], [1937.1, 2.32], [1938.7, 2.43], [1938.9, 2.53], [1936.9, 2.61], [1935.3, 2.57]]],
  [9, [[1966.4, 5.57], [1970, 5.54], [1972.2, 5.54], [1974.4, 5.57], [1970.8, 5.59], [1967.9, 5.58]]],
  [9, [[1971.1, 3.99], [1974.3, 3.88], [1978.5, 3.87], [1981.4, 3.97], [1977.8, 4.09], [1971.8, 4.08]]],
]

const fontFamily = '"Liberation Sans", Arial, sans-serif'
const tickFont = { fontFamily, fontSize: 55, fontWeight: 700, fill: "#000" }
const frame = { stroke: "#111", strokeWidth: 2 }

function AxisTitle(props: { text: string; x: number; y: number; size: number }) {
  return (
    <text
      x={props.x}
      y={props.y}
      transform={`rotate(-90 ${props.x} ${props.y})`}
      textAnchor="middle"
      dominantBaseline="central"
      style={{ fontFamily, fontSize: props.size, fontWeight: 700 }}
    >
      {props.text}
    </text>
  )
}

function RunoffPanel(props: { left: number; values: number[]; domain: number[]; ticks: number[] }) {
  const rows = years.map((year, i) => ({ year, value: props.values[i] }))
  return (
    <div style={{ position: "absolute", left: props.left, top: 0 }}>
      <ComposedChart width={1240} height={830} data={rows} margin={{ top: 65, right: 87.5, bottom: 0, left: 0 }}>
        <CartesianGrid stroke="#222" strokeWidth={2} strokeDasharray="2.5 9.5" />
        <XAxis
          type="number"
          dataKey="year"
          domain={[1900, 2000]}
          ticks={lineYearTicks}
          interval={0}
          height={102}
          tick={tickFont}
          tickSize={-9}
          tickMargin={36}
          axisLine={frame}
          tickLine={frame}
        />
        <YAxis
          type="number"
          domain={props.domain}
          ticks={props.ticks}
          interval={0}
          width={237}
          tick={tickFont}
          tickSize={-9}
          tickMargin={28}
          axisLine={frame}
          tickLine={frame}
        >
          <Label content={() => <AxisTitle text="Runoff" x={81} y={398} size={58} />} />
        </YAxis>
        <XAxis xAxisId="top" orientation="top" type="number" domain={[1900, 2000]} ticks={lineYearTicks} interval={0} height={1} tick={false} tickSize={-9} axisLine={frame} tickLine={frame} />
        <YAxis yAxisId="right" orientation="right" type="number" domain={props.domain} ticks={props.ticks} interval={0} width={1} tick={false} tickSize={-9} axisLine={frame} tickLine={frame} />
        <Line dataKey="value" type="linear" dot={false} stroke="#000" strokeWidth={1.6} isAnimationActive={false} />
      </ComposedChart>
    </div>
  )
}

function PeriodTick(props: any) {
  const { x, y, payload } = props
  const value = 2 ** payload.value
  // the 16 sits further right in the original and runs under the plot
  const edge = x + 15
  return (
    <g>
      <clipPath id={`period-${props.index}-${x}`}>
        <rect x={edge - 120} y={y - 60} width={120} height={120} />
      </clipPath>
      <text
        x={value === 16 ? x + 34 : x}
        y={y}
        textAnchor="end"
        dominantBaseline="central"
        clipPath={`url(#period-${props.index}-${x})`}
        style={tickFont}
      >
        {value}
      </text>
    </g>
  )
}

function ContourPanel(props: { left: number; base: number; contours: Contour[]; titleX: number }) {
  return (
    <div style={{ position: "absolute", left: props.left, top: 840 }}>
      <ComposedChart width={1240} height={832} margin={{ top: 98.5, right: 87.5, bottom: 0, left: 0 }}>
        <CartesianGrid horizontal={false} vertical={false} fill={levelColors[props.base]} fillOpacity={1} />
        <XAxis
          type="number"
          dataKey="x"
          domain={[1903, 1999.4]}
          allowDataOverflow
          ticks={contourYearTicks}
          interval={0}
          height={70}
          tick={tickFont}
          tickLine={false}
          tickMargin={20}
          axisLine={frame}
        />
        <YAxis
          type="number"
          dataKey="y"
          reversed
          domain={[1.08, 6.585]}
          allowDataOverflow
          ticks={periodOctaves}
          interval={0}
          width={237}
          tick={PeriodTick}
          tickLine={false}
          tickMargin={15}
          axisLine={frame}
        >
          <Label content={() => <AxisTitle text="Period (years)" x={props.titleX} y={431} size={60} />} />
        </YAxis>
        {props.contours.map(([level, points], i) => (
          <Scatter
            key={i}
            data={points.map(([x, y]) => ({ x, y }))}
            line={{ fill: levelColors[level], stroke: "#000", strokeWidth: 2.2 }}
            lineJointType="basisClosed"
            shape={() => <g />}
            isAnimationActive={false}
          />
        ))}
        <XAxis xAxisId="top" orientation="top" type="number" domain={[1903, 1999.4]} height={1} tick={false} tickLine={false} axisLine={frame} />
        <YAxis yAxisId="right" orientation="right" type="number" domain={[1.08, 6.585]} width={1} tick={false} tickLine={false} axisLine={frame} />
      </ComposedChart>
    </div>
  )
}

export default function App() {
  return (
    <div style={{ position: "absolute", left: 0, top: 0, width: 2536, height: 1672, background: "#fff" }}>
      <RunoffPanel left={0} values={leftRunoff} domain={[100, 300]} ticks={leftRunoffTicks} />
      <RunoffPanel left={1252} values={rightRunoff} domain={[60, 140]} ticks={rightRunoffTicks} />
      <ContourPanel left={0} base={0} contours={leftContours} titleX={113} />
      <ContourPanel left={1252} base={1} contours={rightContours} titleX={114} />
    </div>
  )
}
